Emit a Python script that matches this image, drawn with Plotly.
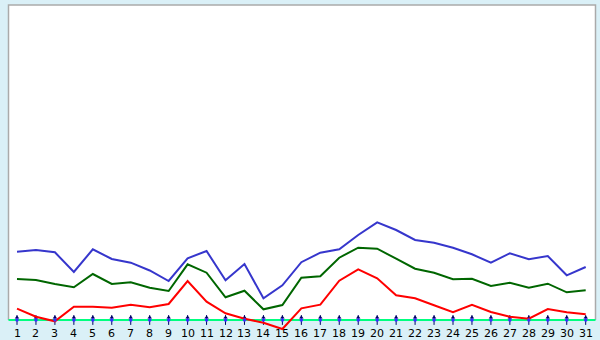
import plotly.graph_objects as go

days = list(range(1, 32))
tick_labels = [str(d) for d in days]

blue_vals = [68.3, 70.0, 67.7, 48.0, 70.7, 61.0, 57.3, 49.5, 39.0, 61.7,
             69.0, 39.7, 56.0, 21.7, 34.7, 57.8, 67.3, 70.7, 85.0, 97.7,
             90.0, 80.0, 77.3, 72.2, 65.7, 57.3, 66.7, 60.7, 64.0, 44.7, 53.0]
green_vals = [41.0, 40.0, 36.0, 32.7, 46.0, 36.0, 37.7, 32.3, 29.0, 55.7,
              47.3, 22.7, 29.3, 10.7, 15.0, 42.3, 43.7, 62.3, 72.3, 71.3,
              61.3, 51.3, 47.3, 40.7, 41.3, 34.0, 37.3, 32.3, 36.3, 27.7, 29.7]
red_vals = [11.3, 3.3, -1.3, 13.3, 13.3, 12.3, 15.3, 12.7, 16.0, 39.0,
            18.3, 6.7, 1.3, -2.7, -9.0, 11.7, 15.3, 39.3, 50.7, 41.7,
            24.7, 21.7, 14.7, 7.7, 15.3, 8.0, 3.3, 1.3, 11.0, 7.7, 5.7]

series = [
    (blue_vals, "#3636cc"),
    (green_vals, "#006600"),
    (red_vals, "#ff0000"),
]

BG = "#daf0f7"
px_per_day = (585.7 - 17) / 30.0
x_lo = 1 - 17 / px_per_day
x_hi = 1 + (600 - 17) / px_per_day
box_x0 = 1 + (8.5 - 17) / px_per_day
box_x1 = 1 + (595.5 - 17) / px_per_day
box_top = 315

fig = go.Figure()

# ticks: vertical arrow + blue dot at each day on the baseline
fig.add_trace(go.Scatter(x=days, y=[0] * len(days), mode="markers",
                         marker=dict(symbol="line-ns", size=7,
                                     line=dict(color="#000066", width=1)),
                         hoverinfo="skip", showlegend=False))
fig.add_trace(go.Scatter(x=days, y=[2.5] * len(days), mode="markers",
                         marker=dict(symbol="triangle-up", size=4, color="#000066"),
                         hoverinfo="skip", showlegend=False))

for vals, col in series:
    fig.add_trace(go.Scatter(x=days, y=vals, mode="lines",
                             line=dict(color=col, width=2),
                             hoverinfo="skip", showlegend=False))

fig.add_trace(go.Scatter(x=days, y=[0] * len(days), mode="markers",
                         marker=dict(symbol="circle", size=3.5, color="#3333ff"),
                         hoverinfo="skip", showlegend=False))

shapes = [
    dict(type="rect", xref="x", yref="y", x0=box_x0, x1=box_x1, y0=0, y1=box_top,
         fillcolor="white", line=dict(width=0), layer="below"),
    dict(type="path", xref="x", yref="y",
         path=f"M {box_x0},0 L {box_x0},{box_top} L {box_x1},{box_top} L {box_x1},0",
         line=dict(color="#aaaaaa", width=1.5), layer="below"),
    dict(type="line", xref="x", yref="y", x0=box_x0, x1=box_x1, y0=0, y1=0,
         line=dict(color="#00ff7f", width=2), layer="below"),
]

annotations = [
    dict(x=d, y=-13.5, xref="x", yref="y", text=lbl, showarrow=False,
         font=dict(family="DejaVu Sans", size=11, color="#000000"),
         xanchor="center", yanchor="middle")
    for d, lbl in zip(days, tick_labels)
]

fig.update_layout(
    width=600, height=340,
    margin=dict(l=0, r=0, t=0, b=0),
    paper_bgcolor=BG, plot_bgcolor=BG,
    xaxis=dict(range=[x_lo, x_hi], visible=False, fixedrange=True),
    yaxis=dict(range=[-20, 320], visible=False, fixedrange=True),
    shapes=shapes,
    annotations=annotations,
    showlegend=False,
)

fig.write_html("out.html")
